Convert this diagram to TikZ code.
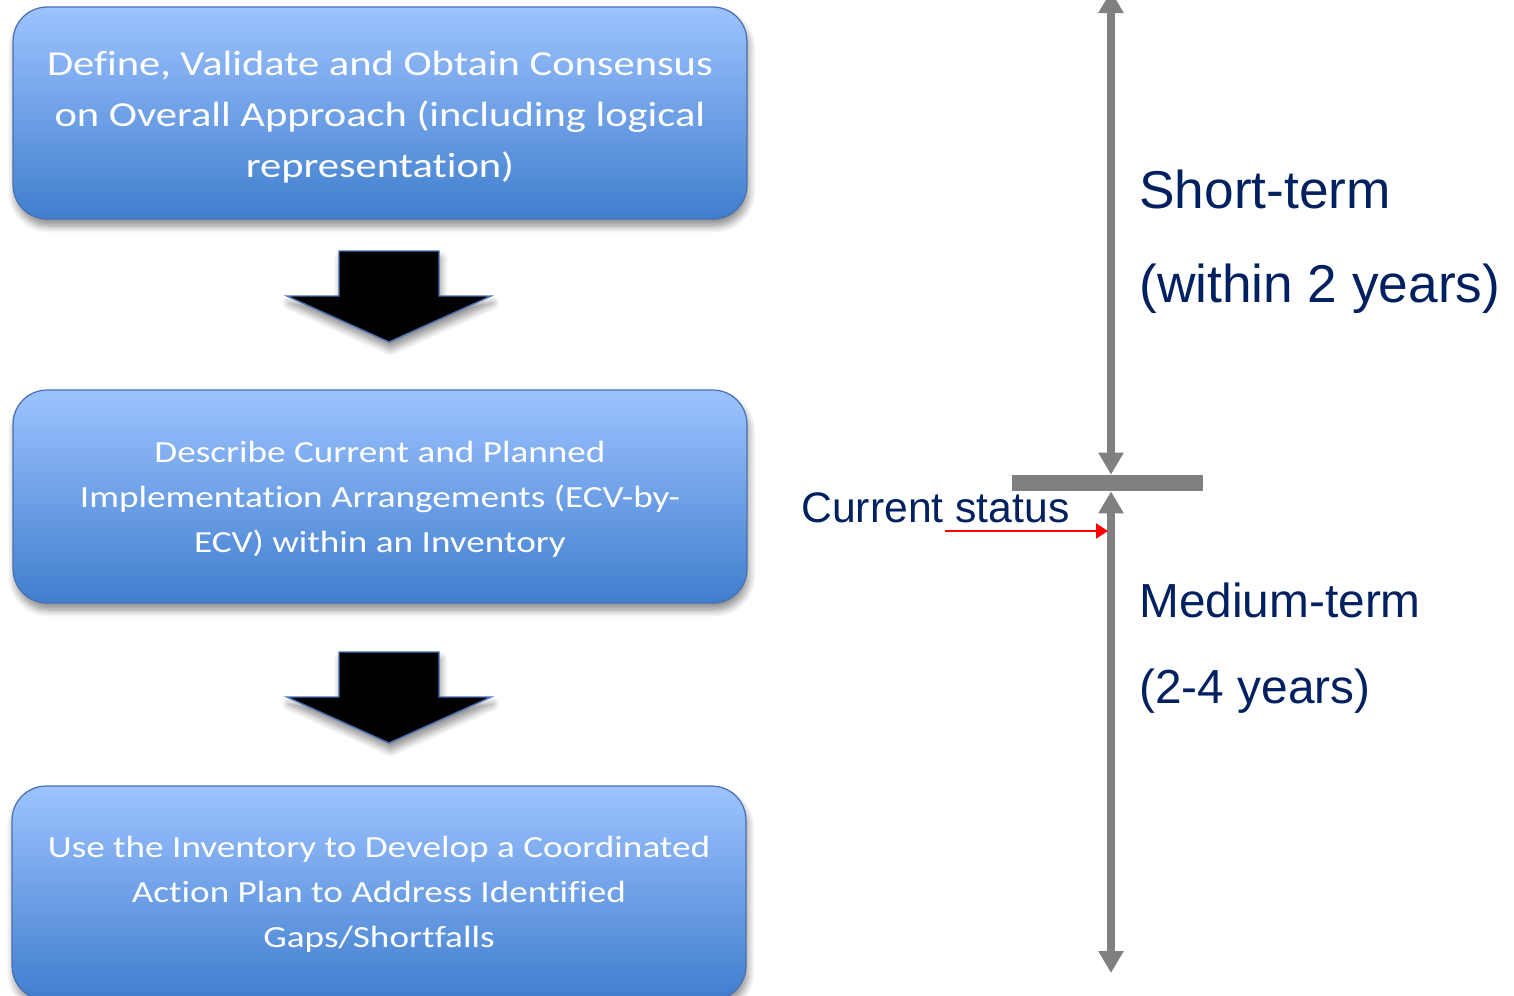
\documentclass[tikz,border=0pt]{standalone}
\usepackage{fontspec}
\setmainfont{Carlito}
\newfontfamily\boxfont[FakeStretch=1.21, Ligatures=NoCommon]{Carlito}
\newfontfamily\arialfont{Liberation Sans}
\usetikzlibrary{arrows.meta,shadows.blur,calc}
\definecolor{boxtop}{RGB}{157,195,255}
\definecolor{boxbot}{RGB}{64,126,206}
\definecolor{boxedge}{RGB}{72,112,180}
\definecolor{navy}{RGB}{0,32,96}
\definecolor{scalegray}{RGB}{128,128,128}

\tikzset{
  softshadow/.style={blur shadow={shadow xshift=1pt, shadow yshift=-4pt,
      shadow blur steps=8, shadow blur radius=4pt, shadow opacity=45}},
  stepbox/.style={rounded corners=0.68cm, draw=boxedge, line width=0.7pt,
      top color=boxtop, bottom color=boxbot, minimum width=14.68cm,
      text=white, align=center, inner sep=0pt, softshadow},
  bigtext/.style={font=\boxfont\fontsize{20}{29}\selectfont},
  smalltext/.style={font=\boxfont\fontsize{17.5}{25.6}\selectfont},
  scalelabel/.style={text=navy, inner sep=0pt, anchor=base west},
  timeline/.style={draw=scalegray, line width=0.16cm,
      {Triangle[width=0.48cm,length=0.44cm]}-{Triangle[width=0.48cm,length=0.44cm]}},
  downblock/.pic={
    \filldraw[fill=black, draw=boxedge, line width=0.8pt, softshadow]
      (-50,0) -- (50,0) -- (50,45) -- (102,45) -- (0,91)
      -- (-102,45) -- (-50,45) -- cycle;
  }
}

\begin{document}
\begin{tikzpicture}[x=0.02cm, y=-0.02cm]
\useasboundingbox (0,0) rectangle (1514,995);
\clip (0,0) rectangle (1514,995);

% process steps
\node[stepbox, bigtext, minimum height=4.24cm] (define) at (380,113)
  {\rule{0pt}{0.65cm}Define, Validate and Obtain Consensus\\on Overall Approach (including logical\\representation)};
\node[stepbox, smalltext, minimum height=4.26cm] (describe) at (380,496.5)
  {\rule{0pt}{0.55cm}Describe Current and Planned\\Implementation Arrangements (ECV-by-\\ECV) within an Inventory};
\node[stepbox, smalltext, minimum height=4.28cm] (plan) at (379,893)
  {\rule{0pt}{0.47cm}Use the Inventory to Develop a Coordinated\\Action Plan to Address Identified\\Gaps/Shortfalls};

% block arrows between the steps
\pic at (389,251) {downblock};
\pic at (389,652) {downblock};

% time scale
\node[fill=scalegray, draw=none, inner sep=0pt, minimum width=3.82cm,
      minimum height=0.32cm] (now) at (1107.5,483) {};
\coordinate (axis) at (1111,483);
\coordinate (top) at (1111,-9);
\coordinate (bottom) at (1111,973);
\draw[timeline] (top) -- (now.north -| axis);
\draw[timeline] (now.south -| axis) -- (bottom);

% current status marker
\node[scalelabel, font=\arialfont\fontsize{24.3}{24.3}\selectfont] (current) at (801,522) {Current status};
\coordinate (cs) at (945,531);
\coordinate (axisedge) at (1108,531);
\draw[red, line width=1.2pt, -{Triangle[width=0.3cm,length=0.24cm]}] (cs) -- (axisedge);

% period labels
\node[scalelabel, font=\arialfont\fontsize{30.3}{30.3}\selectfont] (short) at (1139,208) {Short-term};
\node[scalelabel, font=\arialfont\fontsize{30.3}{30.3}\selectfont] (shortspan) at (1139,302) {(within 2 years)};
\node[scalelabel, font=\arialfont\fontsize{27.2}{27.2}\selectfont] (medium) at (1139,617) {Medium-term};
\node[scalelabel, font=\arialfont\fontsize{27.2}{27.2}\selectfont] (mediumspan) at (1139,703) {(2-4 years)};
\end{tikzpicture}
\end{document}
